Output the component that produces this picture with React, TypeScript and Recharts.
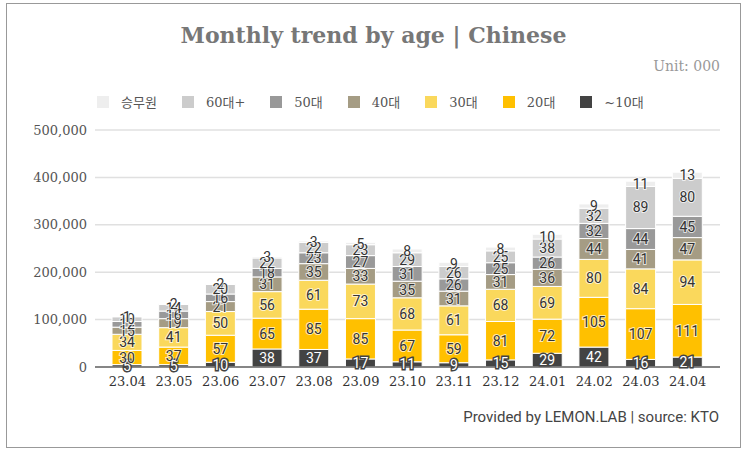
import { Bar, BarChart, CartesianGrid, LabelList, Legend, XAxis, YAxis } from "recharts";

const months = ["23.04", "23.05", "23.06", "23.07", "23.08", "23.09", "23.10", "23.11", "23.12", "24.01", "24.02", "24.03", "24.04"];

// values in thousands
const teens = [5, 5, 10, 38, 37, 17, 11, 9, 15, 29, 42, 16, 21];
const twenties = [30, 37, 57, 65, 85, 85, 67, 59, 81, 72, 105, 107, 111];
const thirties = [34, 41, 50, 56, 61, 73, 68, 61, 68, 69, 80, 84, 94];
const forties = [15, 19, 21, 31, 35, 33, 35, 31, 31, 36, 44, 41, 47];
const fifties = [12, 16, 16, 18, 23, 27, 31, 26, 25, 26, 32, 44, 45];
const sixties = [10, 14, 20, 22, 22, 23, 29, 26, 25, 38, 32, 89, 80];
const crew = [1, 2, 2, 3, 3, 5, 8, 9, 8, 10, 9, 11, 13];

const yTicks = [0, 100000, 200000, 300000, 400000, 500000];

const series = [
  { key: "teens", name: "~10대", color: "#434343", values: teens },
  { key: "twenties", name: "20대", color: "#ffc000", values: twenties },
  { key: "thirties", name: "30대", color: "#fad85c", values: thirties },
  { key: "forties", name: "40대", color: "#a59c84", values: forties },
  { key: "fifties", name: "50대", color: "#999999", values: fifties },
  { key: "sixties", name: "60대+", color: "#cccccc", values: sixties },
  { key: "crew", name: "승무원", color: "#eeeeee", values: crew },
];

const data = months.map((month, i) => {
  const row: Record<string, string | number> = { month };
  series.forEach((s) => {
    row[s.key] = s.values[i] * 1000;
  });
  return row;
});

const serif = "'DejaVu Serif', serif";

function makeLabel(dark: boolean) {
  return (props: any) => {
    const { x, y, width, height, value } = props;
    return (
      <text
        x={x + width / 2}
        y={y + height / 2}
        dy={5}
        textAnchor="middle"
        fontFamily="Roboto, sans-serif"
        fontSize={14}
        fill={dark ? "#ffffff" : "#333333"}
        stroke={dark ? "#434343" : "#ffffff"}
        strokeWidth={dark ? 3 : 2}
        strokeOpacity={dark ? 1 : 0.7}
        paintOrder="stroke"
      >
        {Math.round(value / 1000)}
      </text>
    );
  };
}

function LegendContent() {
  return (
    <div style={{ display: "flex", alignItems: "center", fontFamily: `${serif}, 'Noto Sans CJK KR'`, fontSize: 13, color: "#555" }}>
      {[...series].reverse().map((s) => (
        <div key={s.key} style={{ display: "flex", alignItems: "center", marginRight: 25 }}>
          <span style={{ width: 12, height: 12, background: s.color, marginRight: 12, display: "inline-block" }} />
          <span>{s.name}</span>
        </div>
      ))}
    </div>
  );
}

export default function App() {
  return (
    <div style={{ position: "absolute", left: 0, top: 0, width: 747, height: 453 }}>
      <div
        style={{
          position: "absolute",
          left: 6,
          top: 3,
          width: 735,
          height: 445,
          border: "1.5px solid #999",
          boxSizing: "border-box",
        }}
      />
      <div
        style={{
          position: "absolute",
          left: 0,
          top: 22,
          width: 747,
          textAlign: "center",
          fontFamily: serif,
          fontWeight: "bold",
          fontSize: 22,
          color: "#777",
        }}
      >
        Monthly trend by age | Chinese
      </div>
      <div
        style={{
          position: "absolute",
          right: 27,
          top: 58,
          fontFamily: serif,
          fontSize: 14,
          color: "#999",
        }}
      >
        Unit: 000
      </div>
      <div
        style={{
          position: "absolute",
          right: 28,
          top: 408,
          fontFamily: "Roboto, sans-serif",
          fontSize: 15,
          color: "#444",
        }}
      >
        Provided by LEMON.LAB | source: KTO
      </div>
      <BarChart
        width={747}
        height={453}
        data={data}
        margin={{ top: 130, right: 27, bottom: 56, left: 0 }}
        barSize={30}
      >
        <CartesianGrid vertical={false} stroke="#e0e0e0" strokeWidth={1.5} />
        <XAxis
          dataKey="month"
          padding={{ left: 9, right: 9 }}
          height={30}
          tickLine={false}
          axisLine={{ stroke: "#666", strokeWidth: 1.5 }}
          tick={{ fontFamily: serif, fontSize: 13, fill: "#333" }}
          tickMargin={4}
        />
        <YAxis
          width={95}
          domain={[0, 500000]}
          ticks={yTicks}
          axisLine={false}
          tickLine={false}
          tick={{ fontFamily: serif, fontSize: 13, fill: "#555" }}
          tickFormatter={(v: number) => v.toLocaleString("en-US")}
        />
        <Legend
          verticalAlign="middle"
          content={<LegendContent />}
          wrapperStyle={{ top: 92, left: 97, width: "auto" }}
        />
        {series.map((s, idx) => (
          <Bar
            key={s.key}
            dataKey={s.key}
            name={s.name}
            stackId="a"
            fill={s.color}
            stroke="#ffffff"
            strokeWidth={1}
            isAnimationActive={false}
          >
            <LabelList dataKey={s.key} content={makeLabel(idx === 0)} />
          </Bar>
        ))}
      </BarChart>
    </div>
  );
}
